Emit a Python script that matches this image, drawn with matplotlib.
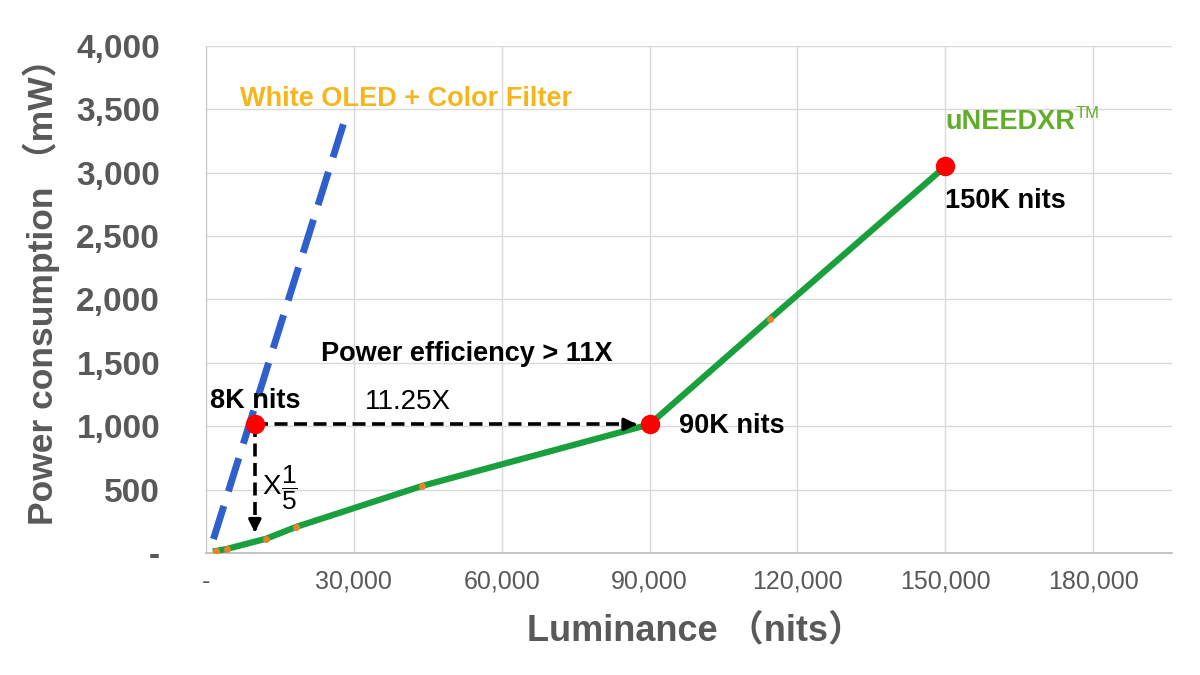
import matplotlib
matplotlib.use("Agg")
import matplotlib.pyplot as plt
from matplotlib.ticker import FuncFormatter, MultipleLocator

# --- data ---
lum_uneed = [2000, 4200, 12200, 18200, 43900, 90000, 114500, 150000]
pw_uneed = [16, 32, 113, 205, 530, 1015, 1850, 3050]

lum_oled = [1500, 28000]
pw_oled = [110, 3400]

key_lum = [9900, 90000, 150000]
key_pw = [1015, 1015, 3050]

arrow_bottom_pw = 140

GRAY = "#595959"
GRID = "#d9d9d9"
BLUE = "#2e5fcc"
GREEN = "#19a03c"
ORANGE_MK = "#e8822a"
RED = "#ff0000"
OLED_TXT = "#f5b51c"
UNEED_TXT = "#62ad2a"
FONTS = ["Liberation Sans", "Noto Sans CJK SC", "DejaVu Sans"]
NARROW = ["Liberation Sans Narrow", "Liberation Sans", "DejaVu Sans"]
LBL = 19.5

plt.rcParams["font.family"] = FONTS
plt.rcParams["mathtext.fontset"] = "custom"
plt.rcParams["mathtext.rm"] = "Liberation Sans"

fig = plt.figure(figsize=(12, 6.75), dpi=100)
ax = fig.add_axes([0.1717, 0.1807, 0.9767 - 0.1717, 0.9319 - 0.1807])

ax.set_xlim(0, 196000)
ax.set_ylim(0, 4000)
ax.xaxis.set_major_locator(MultipleLocator(30000))
ax.yaxis.set_major_locator(MultipleLocator(500))


def fmt(v, pos):
    return "-" if v == 0 else f"{int(v):,}"


ax.xaxis.set_major_formatter(FuncFormatter(fmt))
ax.yaxis.set_major_formatter(FuncFormatter(fmt))
ax.grid(True, color=GRID, linewidth=1.0, zorder=0)
for s in ["top", "right"]:
    ax.spines[s].set_visible(False)
ax.spines["left"].set_color("#c8c8c8")
ax.spines["bottom"].set_color("#bfbfbf")
ax.spines["bottom"].set_linewidth(1.3)
ax.tick_params(length=0, pad=12)
ax.tick_params(axis="y", pad=33)
for lbl in ax.get_yticklabels():
    lbl.set_fontsize(24)
    lbl.set_fontweight("bold")
    lbl.set_color(GRAY)
for lbl in ax.get_xticklabels():
    lbl.set_fontsize(18)
    lbl.set_family(NARROW)
    lbl.set_color(GRAY)

# series
ax.plot(lum_oled, pw_oled, color=BLUE, linewidth=5, dashes=(5, 2.2),
        solid_capstyle="butt", zorder=3)
ax.plot(lum_uneed, pw_uneed, color=GREEN, linewidth=4.5, marker="o",
        markersize=4, markerfacecolor=ORANGE_MK, markeredgecolor=ORANGE_MK,
        zorder=4)

# dashed arrows
ax.plot([key_lum[0], key_lum[1] - 3500], [key_pw[0], key_pw[1]],
        color="black", linewidth=2.6, dashes=(3.6, 1.8), zorder=5)
ax.annotate("", xy=(key_lum[1] - 2000, key_pw[1]),
            xytext=(key_lum[1] - 4000, key_pw[1]),
            arrowprops=dict(arrowstyle="-|>", color="black", lw=2.5,
                            mutation_scale=18), zorder=5)
ax.plot([key_lum[0], key_lum[0]], [key_pw[0], arrow_bottom_pw + 80],
        color="black", linewidth=2.6, dashes=(3.6, 1.8), zorder=5)
ax.annotate("", xy=(key_lum[0], arrow_bottom_pw),
            xytext=(key_lum[0], arrow_bottom_pw + 90),
            arrowprops=dict(arrowstyle="-|>", color="black", lw=2.5,
                            mutation_scale=18), zorder=5)

ax.plot(key_lum, key_pw, linestyle="none", marker="o", markersize=13,
        color=RED, zorder=6)

# annotations
ax.text(6900, 3580, "White OLED + Color Filter", color=OLED_TXT,
        fontsize=LBL, fontweight="bold", ha="left", va="center")
t = ax.text(150000, 3400, "uNEEDXR", color=UNEED_TXT,
            fontsize=LBL, fontweight="bold", ha="left", va="center")
ax.annotate("TM", xy=(1, 1), xycoords=t, xytext=(0.5, 2),
            textcoords="offset points", color=UNEED_TXT, fontsize=12,
            ha="left", va="top")
ax.text(150000, 2780, "150K nits", fontsize=LBL, fontweight="bold",
        ha="left", va="center")
ax.text(96000, 1000, "90K nits", fontsize=LBL, fontweight="bold",
        ha="left", va="center")
ax.text(800, 1200, "8K nits", fontsize=LBL, fontweight="bold",
        ha="left", va="center")
ax.text(53000, 1570, "Power efficiency > 11X", fontsize=LBL,
        fontweight="bold", ha="center", va="center")
ax.text(41000, 1190, "11.25X", fontsize=20, ha="center", va="center")
ax.text(11400, 520, "X", fontsize=20, ha="left", va="center")
ax.text(15200, 515, r"$\dfrac{\mathrm{1}}{\mathrm{5}}$", fontsize=19,
        ha="left", va="center")

ax.set_xlabel("Luminance （nits）", fontsize=26, fontweight="bold",
              color=GRAY, labelpad=14)
ax.xaxis.label.set_x(0.507)
ax.set_ylabel("Power consumption （mW）", fontsize=25.5, fontweight="bold",
              color=GRAY)
ax.yaxis.set_label_coords(-0.151, 0.532)

fig.savefig("out.png", dpi=100, facecolor="white")
